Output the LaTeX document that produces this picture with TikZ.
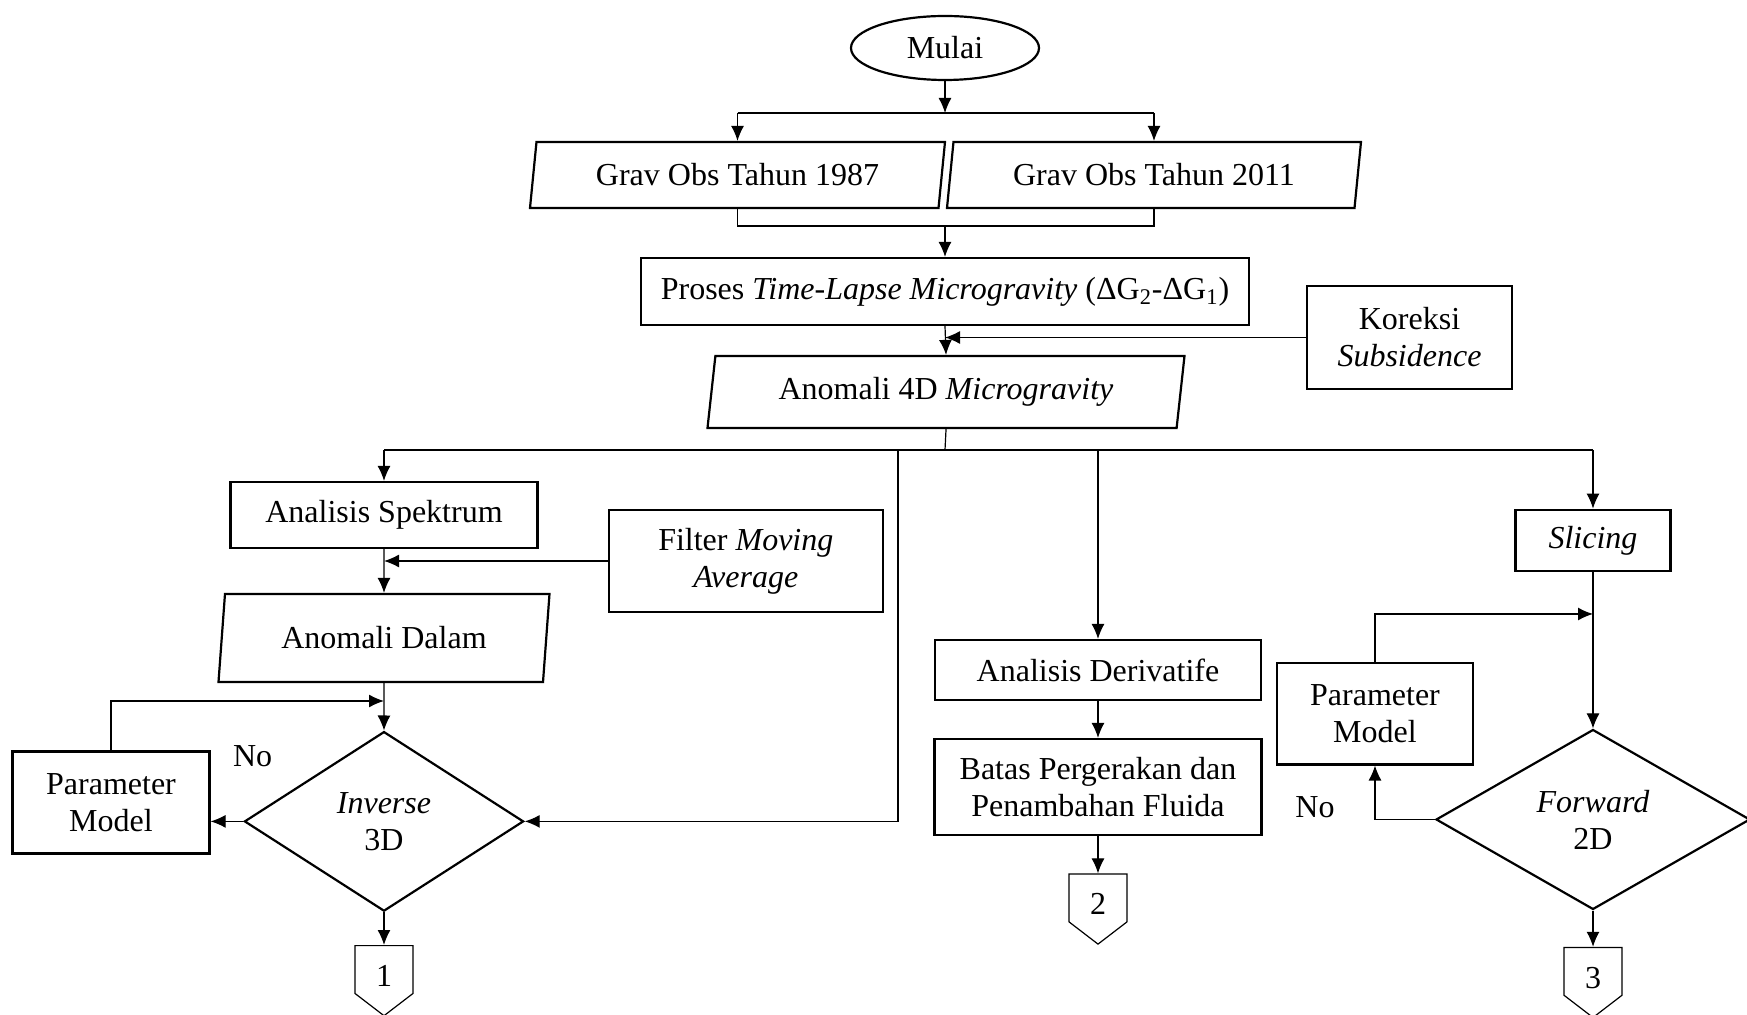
\documentclass[tikz,border=0pt]{standalone}
\usepackage{fontspec}
\setmainfont{Liberation Serif}
\usetikzlibrary{shapes.geometric, shapes.symbols, arrows.meta}

\tikzset{
  kotak/.style={draw, line width=1.1pt, rectangle, align=center, inner sep=2pt},
  masukan/.style={draw, line width=1.1pt, trapezium, trapezium left angle=78,
    trapezium right angle=102, trapezium stretches body, align=center, inner sep=2pt},
  keputusan/.style={draw, line width=1.1pt, diamond, aspect=1.55, inner sep=0pt, align=center},
  terminal/.style={draw, line width=1.1pt, ellipse, minimum width=94pt, minimum height=32pt},
  halaman/.style={draw, line width=0.6pt, signal, signal to=south, signal from=nowhere,
    signal pointer angle=105, minimum width=29pt, minimum height=27pt, inner sep=0pt,
    text height=17pt, text depth=0pt},
  garis/.style={line width=0.6pt}
}

\begin{document}
\begin{tikzpicture}[x=0.5pt, y=-0.5pt, >={Latex[length=7.5pt,width=6.5pt]},
  font=\fontsize{16}{18.5}\selectfont]

    \useasboundingbox (0,0) rectangle (1747,1015);

    % =================================================================
    % 1. BAGIAN ATAS: MULAI SAMPAI ANOMALI 4D
    % =================================================================
    \node[terminal] (mulai) at (945,48) {Mulai};
    \node[masukan, minimum width=207.5pt, minimum height=33pt] (grav1) at (737.5,175) {Grav Obs Tahun 1987};
    \node[masukan, minimum width=207pt, minimum height=33pt] (grav2) at (1154,175) {Grav Obs Tahun 2011};
    \node[kotak, minimum width=304pt, minimum height=33.5pt] (proses) at (945,291.5)
        {Proses \textit{Time-Lapse Microgravity} (ΔG\textsubscript{2}-ΔG\textsubscript{1})};
    \node[kotak, minimum width=102.5pt, minimum height=51.5pt] (koreksi) at (1409.5,337.5)
        {Koreksi\\\textit{Subsidence}};
    \node[masukan, minimum width=238.5pt, minimum height=36pt] (anom4d) at (946,392)
        {Anomali 4D \textit{Microgravity}};

    % =================================================================
    % 2. CABANG KIRI: INVERSE 3D
    % =================================================================
    \node[kotak, minimum width=153.5pt, minimum height=33pt] (spektrum) at (384,515) {Analisis Spektrum};
    \node[kotak, minimum width=137pt, minimum height=51.3pt] (filter) at (745.8,561)
        {Filter \textit{Moving}\\\textit{Average}};
    \node[masukan, minimum width=165.5pt, minimum height=44pt] (adalam) at (384,638) {Anomali Dalam};
    \node[keputusan, minimum width=139.6pt, minimum height=89.8pt] (inverse) at (384,821.4)
        {\textit{Inverse}\\3D};
    \node[kotak, minimum width=98.5pt, minimum height=51pt] (paramkiri) at (111,802.6) {Parameter\\Model};
    \node (nokiri) at (252.6,756) {No};
    \node[halaman, anchor=north] (hal1) at (384,945) {1};

    % =================================================================
    % 3. CABANG TENGAH: DERIVATIFE
    % =================================================================
    \node[kotak, minimum width=163pt, minimum height=30pt] (deriv) at (1098,670) {Analisis Derivatife};
    \node[kotak, minimum width=163.5pt, minimum height=48pt] (batas) at (1098,787)
        {Batas Pergerakan dan\\Penambahan Fluida};
    \node[halaman, anchor=north] (hal2) at (1098,873.4) {2};

    % =================================================================
    % 4. CABANG KANAN: FORWARD 2D
    % =================================================================
    \node[kotak, minimum width=77.5pt, minimum height=30.8pt] (slicing) at (1593,540.5) {\textit{Slicing}};
    \node[kotak, minimum width=98pt, minimum height=50.75pt] (paramkanan) at (1375,713.7) {Parameter\\Model};
    \node[keputusan, minimum width=157pt, minimum height=90pt] (forward) at (1593,819.5)
        {\textit{Forward}\\2D};
    \node (nokanan) at (1315,807) {No};
    \node[halaman, anchor=north] (hal3) at (1593,946.8) {3};

    % =================================================================
    % 5. GARIS PENGHUBUNG
    % =================================================================
    % Mulai ke kedua data observasi
    \coordinate (bagi) at (945,113);
    \draw[garis, ->] (mulai.south) -- (bagi);
    \draw[garis] (grav1.north |- bagi) -- (grav2.north |- bagi);
    \draw[garis, ->] (grav1.north |- bagi) -- (grav1.north);
    \draw[garis, ->] (grav2.north |- bagi) -- (grav2.north);

    % Gabungan data ke proses time-lapse
    \coordinate (gabung) at (945,226);
    \draw[garis] (grav1.south) -- (grav1.south |- gabung) -- (grav2.south |- gabung) -- (grav2.south);
    \draw[garis, ->] (gabung) -- (proses.north);
    \draw[garis, ->] (proses.south) -- (anom4d.north);
    \draw[garis, ->] (koreksi.west) -- (proses.south |- koreksi.west);

    % Percabangan dari anomali 4D
    \coordinate (cabang) at (945,450);
    \coordinate (belok) at (898,450);
    \draw[garis] (anom4d.south) -- (cabang);
    \draw[garis] (spektrum.north |- cabang) -- (slicing.north |- cabang);
    \draw[garis, ->] (spektrum.north |- cabang) -- (spektrum.north);
    \draw[garis, ->] (deriv.north |- cabang) -- (deriv.north);
    \draw[garis, ->] (slicing.north |- cabang) -- (slicing.north);
    \draw[garis, ->] (belok) -- (belok |- inverse.east) -- (inverse.east);

    % Cabang kiri
    \coordinate (putarkiri) at (384,701);
    \draw[garis, ->] (spektrum.south) -- (adalam.north);
    \draw[garis, ->] (filter.west) -- (spektrum.south |- filter.west);
    \draw[garis, ->] (adalam.south) -- (inverse.north);
    \draw[garis, ->] (paramkiri.north) -- (paramkiri.north |- putarkiri) -- (putarkiri);
    \draw[garis, ->] (inverse.west) -- (inverse.west -| paramkiri.east);
    \draw[garis, ->] (inverse.south) -- (hal1.north);

    % Cabang tengah
    \draw[garis, ->] (deriv.south) -- (batas.north);
    \draw[garis, ->] (batas.south) -- (hal2.north);

    % Cabang kanan
    \coordinate (putarkanan) at (1593,614);
    \draw[garis, ->] (slicing.south) -- (forward.north);
    \draw[garis, ->] (paramkanan.north) -- (paramkanan.north |- putarkanan) -- (putarkanan);
    \draw[garis, ->] (forward.west) -- (forward.west -| paramkanan.south) -- (paramkanan.south);
    \draw[garis, ->] (forward.south) -- (hal3.north);

\end{tikzpicture}
\end{document}
